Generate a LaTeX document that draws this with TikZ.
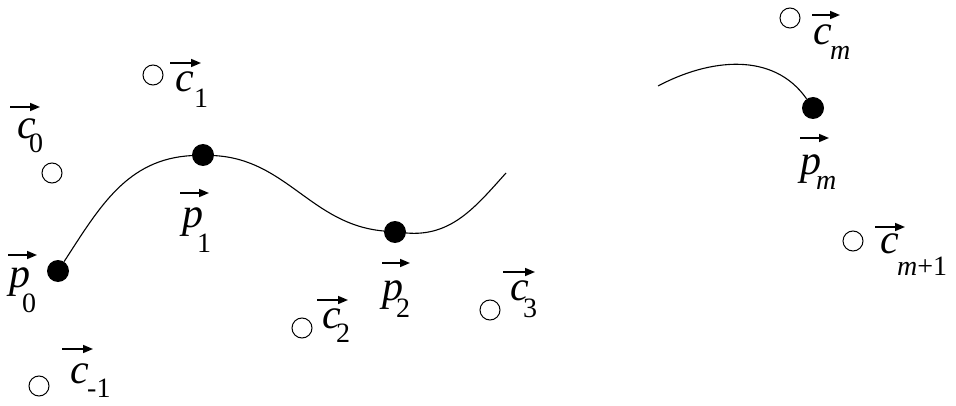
\documentclass[tikz,border=0pt]{standalone}
\usepackage{fontspec}
\setmainfont{Liberation Serif}
\usepackage{tikz}
\usetikzlibrary{arrows.meta}

\begin{document}
\begin{tikzpicture}[x=1pt,y=1pt,
  knot/.style={circle,fill,inner sep=0pt,minimum size=22pt},
  ctrl/.style={circle,draw,line width=1pt,inner sep=0pt,minimum size=20pt},
  sym/.style={anchor=base west,inner sep=0pt,font=\fontsize{42}{42}\selectfont\itshape},
  idx/.style={anchor=base west,inner sep=0pt,font=\fontsize{28}{28}\selectfont},
  vec/.style={line width=1.6pt,-{Triangle[length=10pt,width=8pt]}},
  crv/.style={line width=1.1pt}]
  \useasboundingbox (0,0) rectangle (956,405);
  % interpolated points
  \node[knot] (d0) at (58,134) {};
  \node[knot] (d1) at (203,250) {};
  \node[knot] (d2) at (395,173) {};
  \node[knot] (dm) at (813,297) {};
  \coordinate (e1) at (506,232);
  \coordinate (s2) at (658,319);
  \draw[crv] (d0) to[out=57,in=183] (d1) to[out=-3,in=175] (d2)
    to[out=-5,in=228] (e1);
  \draw[crv] (s2) to[out=28,in=125] (dm);
  % control points
  \node[ctrl] (o0) at (52,232) {};
  \node[ctrl] (o1) at (153,330) {};
  \node[ctrl] (om) at (39,19) {};
  \node[ctrl] (o2) at (302,77) {};
  \node[ctrl] (o3) at (490,95) {};
  \node[ctrl] (ok) at (790,387) {};
  \node[ctrl] (ok1) at (853,164) {};
  % labels
  \node[sym] (lp0) at (9,118) {p};
  \node[idx] at (22,93) {0};
  \node[sym] (lp1) at (182,178) {p};
  \node[idx] at (197,153) {1};
  \node[sym] (lp2) at (382,105) {p};
  \node[idx] at (396,88) {2};
  \node[sym] (lpm) at (800,230) {p};
  \node[idx] at (816,215) {\itshape m};
  \node[sym] (lc0) at (17,266) {c};
  \node[idx] at (29,252) {0};
  \node[sym] (lc1) at (175,313) {c};
  \node[idx] at (194,297) {1};
  \node[sym] (lcm) at (70,22) {c};
  \node[idx] at (87,8) {-1};
  \node[sym] (lc2) at (322,77) {c};
  \node[idx] at (336,63) {2};
  \node[sym] (lc3) at (510,105) {c};
  \node[idx] at (523,88) {3};
  \node[sym] (lck) at (813,360) {c};
  \node[idx] at (830,345) {\itshape m};
  \node[sym] (lck1) at (880,152) {c};
  \node[idx] at (897,130) {\itshape m\upshape+1};
  % vector arrows
  \draw[vec] ([shift={(-1,32)}]lp0.base west) -- ++(29,0);
  \draw[vec] ([shift={(-2,34)}]lp1.base west) -- ++(29,0);
  \draw[vec] ([shift={(0,37)}]lp2.base west) -- ++(28,0);
  \draw[vec] ([shift={(0,37)}]lpm.base west) -- ++(29,0);
  \draw[vec] ([shift={(-7,32)}]lc0.base west) -- ++(30,0);
  \draw[vec] ([shift={(-5,29)}]lc1.base west) -- ++(31,0);
  \draw[vec] ([shift={(-8,34)}]lcm.base west) -- ++(31,0);
  \draw[vec] ([shift={(-5,28)}]lc2.base west) -- ++(31,0);
  \draw[vec] ([shift={(-7,28)}]lc3.base west) -- ++(32,0);
  \draw[vec] ([shift={(-1,30)}]lck.base west) -- ++(28,0);
  \draw[vec] ([shift={(-5,26)}]lck1.base west) -- ++(30,0);
\end{tikzpicture}
\end{document}
